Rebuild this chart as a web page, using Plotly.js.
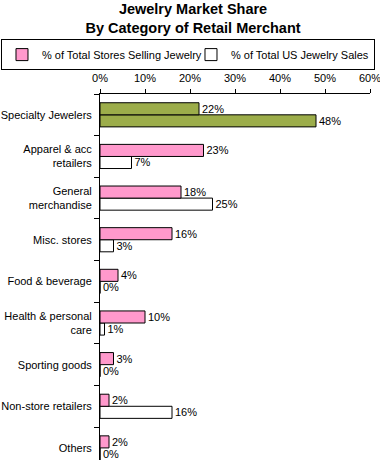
<!DOCTYPE html>
<html><head><meta charset="utf-8">
<script src="https://cdn.plot.ly/plotly-3.0.1.min.js"></script>
<style>html,body{margin:0;padding:0;background:#fff;} #chart{width:380px;height:460px;}</style>
</head><body><div id="chart"></div>
<script>
// Data, read top-to-bottom from the chart
const categories = ['Specialty Jewelers', 'Apparel & acc<br>retailers', 'General<br>merchandise', 'Misc. stores',
  'Food & beverage', 'Health & personal<br>care', 'Sporting goods', 'Non-store retailers', 'Others'];
const storesSellingJewelry = [22, 23, 18, 16, 4, 10, 3, 2, 2];
const usJewelrySales = [48, 7, 25, 3, 0, 1, 0, 16, 0];
const seriesNames = ['% of Total Stores Selling Jewelry', '% of Total US Jewelry Sales'];
const xTickValues = [0, 10, 20, 30, 40, 50, 60];
const xTickLabels = ['0%', '10%', '20%', '30%', '40%', '50%', '60%'];
const highlightCategory = 'Specialty Jewelers';

// Styles
const PINK = '#FF99CC', WHITE = '#FFFFFF', OLIVE = '#9CAD4A';
const FONT = 'Liberation Sans, Arial, sans-serif';

// y axis runs bottom-to-top, so feed categories reversed
const yCats = categories.slice().reverse();
function colorsFor(base) { return yCats.map(c => c === highlightCategory ? OLIVE : base); }
function pctLabels(vals) { return vals.map(v => v + '%'); }

const common = {
  type: 'bar', orientation: 'h', y: yCats,
  textposition: 'outside',
  textfont: {size: 11, color: '#000', family: FONT},
  constraintext: 'none', cliponaxis: false, hoverinfo: 'none'
};

const salesRev = usJewelrySales.slice().reverse();
const storesRev = storesSellingJewelry.slice().reverse();

const traces = [
  Object.assign({}, common, {
    name: seriesNames[1], x: salesRev, text: pctLabels(salesRev),
    marker: {color: colorsFor(WHITE), line: {color: '#000', width: 1}}, legendwidth: 138
  }),
  Object.assign({}, common, {
    name: seriesNames[0], x: storesRev, text: pctLabels(storesRev),
    marker: {color: colorsFor(PINK), line: {color: '#000', width: 1}}, legendwidth: 144
  })
];

const layout = {
  width: 380, height: 460,
  margin: {l: 100, r: 10, t: 94, b: 0, pad: 0},
  paper_bgcolor: '#fff', plot_bgcolor: '#fff',
  font: {family: FONT, size: 11, color: '#000'},
  title: {
    text: 'Jewelry Market Share<br>By Category of Retail Merchant',
    font: {family: FONT, size: 14.5, weight: 'bold', color: '#000'},
    x: 0.508, xref: 'container', xanchor: 'center',
    y: 0.9696, yref: 'container', yanchor: 'top', pad: {t: 0}
  },
  barmode: 'group', bargap: 0.42, bargroupgap: 0,
  showlegend: true,
  legend: {
    orientation: 'h', x: -0.3667, xanchor: 'left', y: 1.15, yanchor: 'top',
    bordercolor: '#000', borderwidth: 1, bgcolor: '#fff',
    font: {family: FONT, size: 11, color: '#000'},
    traceorder: 'reversed', itemwidth: 30
  },
  xaxis: {
    side: 'top', range: [0, 60], tickvals: xTickValues, ticktext: xTickLabels,
    ticks: 'outside', ticklen: 4, tickcolor: '#000', tickwidth: 1,
    showline: true, linecolor: '#000', linewidth: 1,
    showgrid: false, zeroline: false, ticklabelstandoff: 3,
    ticklabeloverflow: 'allow',
    tickfont: {family: FONT, size: 11, color: '#000'}, fixedrange: true
  },
  yaxis: {
    type: 'category', categoryorder: 'array', categoryarray: yCats,
    range: [-0.29, 8.5], tickson: 'boundaries',
    ticks: 'outside', ticklen: 5, tickcolor: '#000', tickwidth: 1,
    showline: true, linecolor: '#000', linewidth: 1,
    showgrid: false, zeroline: false, ticklabelstandoff: 5,
    tickfont: {family: FONT, size: 11, color: '#000'}, fixedrange: true
  }
};

Plotly.newPlot('chart', traces, layout, {staticPlot: true, displayModeBar: false});
</script>
</body></html>
